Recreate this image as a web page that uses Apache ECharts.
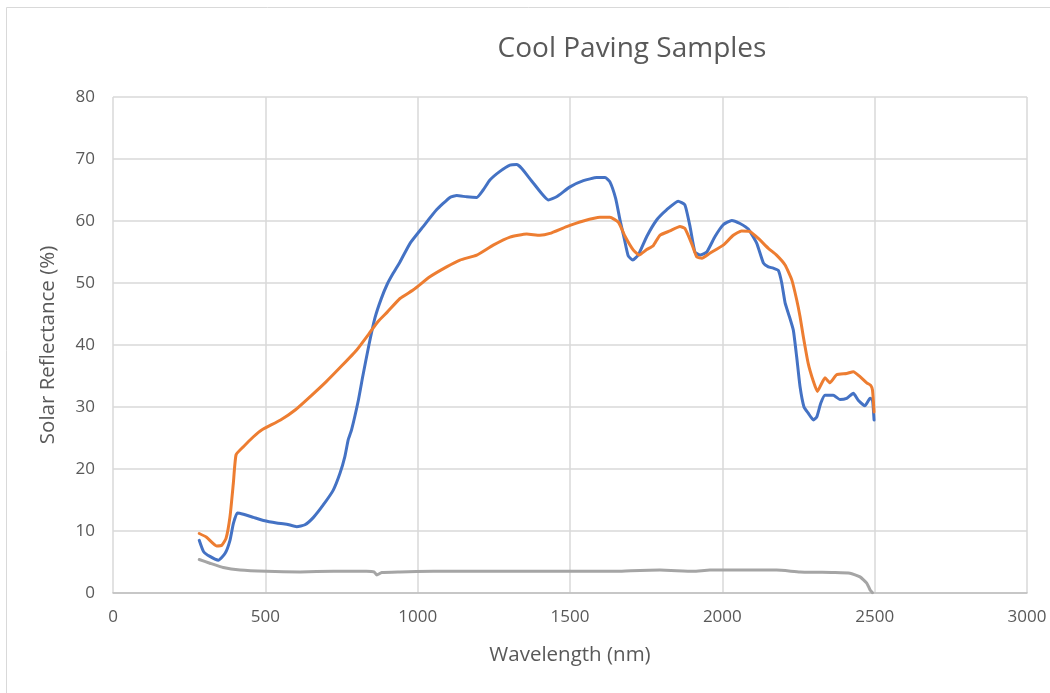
<!DOCTYPE html>
<html>
<head>
<meta charset="utf-8">
<script src="https://cdn.jsdelivr.net/npm/echarts@6/dist/echarts.min.js"></script>
<style>
  html, body { margin: 0; padding: 0; background: #ffffff; }
  #chart { width: 1050px; height: 693px; }
</style>
</head>
<body>
<div id="chart"></div>
<script>
// Spectral reflectance of three paving samples, wavelength (nm) vs reflectance (%)
const seriesNames = ['Sample A', 'Sample B', 'Sample C'];

const sampleA = [
  [283, 8.5], [297, 6.7], [318, 5.9], [346, 5.3], [368, 6.4], [384, 8.5], [395, 11.2],
  [408, 12.9], [428, 12.7], [461, 12.2], [494, 11.7], [537, 11.3], [570, 11.1],
  [603, 10.7], [630, 11.0], [658, 12.2], [690, 14.2], [723, 16.6], [745, 19.3],
  [761, 22.0], [772, 24.7], [783, 26.3], [805, 31.0], [820, 35.0], [840, 40.0],
  [860, 44.4], [880, 47.4], [900, 49.8], [920, 51.6], [942, 53.4], [975, 56.4],
  [1018, 59.1], [1062, 61.8], [1106, 63.8], [1128, 64.1], [1161, 63.9], [1194, 63.8],
  [1215, 65.0], [1237, 66.6], [1270, 68.0], [1303, 69.0], [1325, 69.1], [1341, 68.5],
  [1380, 66.1], [1429, 63.4], [1456, 63.9], [1500, 65.5], [1544, 66.5], [1588, 67.0],
  [1615, 67.0], [1631, 66.3], [1650, 63.6], [1664, 60.2], [1678, 57.2], [1691, 54.4],
  [1706, 53.7], [1724, 54.5], [1752, 57.5], [1785, 60.2], [1817, 61.8], [1855, 63.2],
  [1877, 62.6], [1894, 59.1], [1910, 55.0], [1927, 54.5], [1949, 55.0], [1976, 57.5],
  [2003, 59.4], [2031, 60.1], [2058, 59.6], [2085, 58.7], [2113, 56.4], [2135, 53.2],
  [2151, 52.6], [2167, 52.4], [2184, 52.0], [2195, 50.0], [2206, 46.8], [2220, 44.6],
  [2233, 42.4], [2244, 38.1], [2255, 33.3], [2268, 30.0], [2282, 29.0], [2299, 27.9],
  [2310, 28.4], [2323, 30.6], [2337, 31.9], [2364, 31.9], [2386, 31.2], [2408, 31.4],
  [2430, 32.2], [2446, 31.1], [2468, 30.2], [2485, 31.4], [2493, 31.1], [2498, 27.9]
];

const sampleB = [
  [283, 9.6], [307, 9.0], [340, 7.6], [357, 7.7], [371, 8.8], [384, 12.3], [395, 17.7],
  [404, 22.3], [428, 23.6], [461, 25.2], [488, 26.3], [550, 27.9], [600, 29.6],
  [650, 31.8], [700, 34.1], [750, 36.6], [800, 39.2], [840, 41.8], [870, 43.8],
  [900, 45.3], [942, 47.5], [986, 48.9], [1040, 51.0], [1095, 52.6], [1139, 53.7],
  [1194, 54.5], [1248, 56.1], [1303, 57.4], [1358, 57.9], [1401, 57.7], [1434, 58.0],
  [1489, 59.1], [1544, 60.0], [1598, 60.6], [1631, 60.6], [1659, 59.8], [1681, 57.5],
  [1708, 55.3], [1727, 54.5], [1752, 55.4], [1773, 56.0], [1795, 57.7], [1828, 58.4],
  [1861, 59.1], [1877, 58.8], [1899, 56.4], [1916, 54.2], [1933, 54.0], [1959, 54.8],
  [2003, 56.1], [2036, 57.7], [2063, 58.4], [2091, 58.3], [2118, 57.2], [2151, 55.6],
  [2178, 54.5], [2206, 52.9], [2228, 50.5], [2244, 47.3], [2255, 44.6], [2266, 41.3],
  [2282, 37.0], [2299, 34.1], [2312, 32.5], [2323, 33.5], [2337, 34.7], [2353, 33.9],
  [2375, 35.2], [2408, 35.4], [2430, 35.7], [2452, 34.9], [2474, 33.9], [2487, 33.5],
  [2493, 32.7], [2498, 29.2]
];

const sampleC = [
  [283, 5.4], [318, 4.8], [362, 4.1], [417, 3.7], [504, 3.5], [614, 3.4], [723, 3.5],
  [832, 3.5], [857, 3.4], [866, 2.9], [882, 3.3], [942, 3.4], [1051, 3.5], [1434, 3.5],
  [1650, 3.5], [1700, 3.6], [1795, 3.7], [1905, 3.5], [1959, 3.7], [2178, 3.7],
  [2255, 3.4], [2364, 3.3], [2419, 3.2], [2452, 2.6], [2474, 1.6], [2485, 0.5], [2493, 0.05]
];

const xTicks = { min: 0, max: 3000, interval: 500 };
const yTicks = { min: 0, max: 80, interval: 10 };

const textColor = '#595959';
const gridColor = '#d9d9d9';
const fontFamily = '"Open Sans", "Liberation Sans", sans-serif';

const chart = echarts.init(document.getElementById('chart'), null, { renderer: 'canvas' });

function lineSeries(name, data, color) {
  return {
    name: name,
    type: 'line',
    data: data,
    showSymbol: false,
    symbol: 'none',
    smooth: 0.15,
    lineStyle: { color: color, width: 3, cap: 'round', join: 'round' },
    itemStyle: { color: color },
    emphasis: { disabled: true },
    animation: false
  };
}

chart.setOption({
  backgroundColor: '#ffffff',
  animation: false,
  title: {
    text: 'Cool Paving Samples',
    left: 627,
    top: 30,
    textAlign: 'center',
    textStyle: { color: textColor, fontSize: 28, fontWeight: 'normal', fontFamily: fontFamily }
  },
  graphic: [{
    type: 'rect',
    shape: { x: 6.5, y: 7.5, width: 1100, height: 800 },
    style: { fill: 'none', stroke: gridColor, lineWidth: 1 },
    silent: true,
    z: -1
  }],
  grid: { left: 113, right: 23, top: 97, bottom: 100, containLabel: false },
  xAxis: {
    type: 'value',
    min: xTicks.min, max: xTicks.max, interval: xTicks.interval,
    name: 'Wavelength (nm)',
    nameLocation: 'middle',
    nameGap: 52,
    nameTextStyle: { color: textColor, fontSize: 20.5, fontFamily: fontFamily },
    axisLine: { show: true, lineStyle: { color: '#bfbfbf', width: 1.5 } },
    axisTick: { show: false },
    axisLabel: {
      color: textColor, fontSize: 17, fontFamily: fontFamily, margin: 16,
      formatter: function (v) { return String(v); }
    },
    splitLine: { show: true, lineStyle: { color: gridColor, width: 1.5 } }
  },
  yAxis: {
    type: 'value',
    min: yTicks.min, max: yTicks.max, interval: yTicks.interval,
    name: 'Solar Reflectance (%)',
    nameLocation: 'middle',
    nameGap: 54,
    nameRotate: 90,
    nameTextStyle: { color: textColor, fontSize: 20.5, fontFamily: fontFamily },
    axisLine: { show: false },
    axisTick: { show: false },
    axisLabel: { color: textColor, fontSize: 17, fontFamily: fontFamily, margin: 18 },
    splitLine: { show: true, lineStyle: { color: gridColor, width: 1.5 } }
  },
  series: [
    lineSeries(seriesNames[0], sampleA, '#4472c4'),
    lineSeries(seriesNames[1], sampleB, '#ed7d31'),
    lineSeries(seriesNames[2], sampleC, '#a5a5a5')
  ]
});
</script>
</body>
</html>
